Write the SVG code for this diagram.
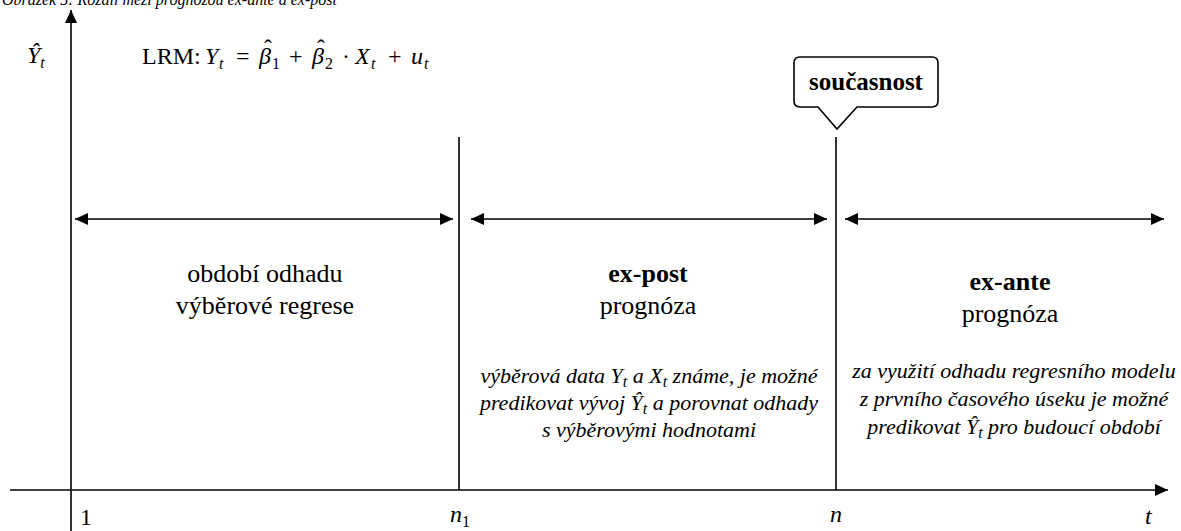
<svg xmlns="http://www.w3.org/2000/svg" width="1181" height="531" viewBox="0 0 1181 531">
<style>
.ln{stroke:#000;stroke-width:1.6;fill:none}
.t{font-family:"Liberation Serif","Times New Roman",serif;fill:#000}
.m{font-family:"Liberation Serif","Times New Roman",serif;font-style:italic;fill:#000}
.i{font-style:italic}
.f24{font-size:24px}
.sub{font-size:16px}
.lab{font-size:26px}
.it{font-size:22px;font-style:italic}
</style>
<defs>
<marker id="ah" viewBox="0 0 13 12" refX="13" refY="6" markerWidth="13" markerHeight="12" markerUnits="userSpaceOnUse" orient="auto-start-reverse">
<path d="M0,0 L13,6 L0,12 z" fill="#000"/>
</marker>
</defs>
<rect width="1181" height="531" fill="#fff"/>
<text class="t" x="2" y="4.5" font-size="16" font-style="italic">Obrázek 5: Rozdíl mezi prognózou ex-ante a ex-post</text>
<g id="connectors">
<line class="ln" x1="71" y1="531" x2="71" y2="10" marker-end="url(#ah)"/>
<line class="ln" x1="10" y1="490" x2="1168" y2="490" marker-end="url(#ah)"/>
<line class="ln" x1="459" y1="137" x2="459" y2="490"/>
<line class="ln" x1="836" y1="137" x2="836" y2="490"/>
<line class="ln" x1="75" y1="219" x2="453" y2="219" marker-start="url(#ah)" marker-end="url(#ah)"/>
<line class="ln" x1="471" y1="219" x2="827" y2="219" marker-start="url(#ah)" marker-end="url(#ah)"/>
<line class="ln" x1="845" y1="219" x2="1164" y2="219" marker-start="url(#ah)" marker-end="url(#ah)"/>
</g>
<g id="axis-labels">
<text class="m f24" x="27" y="63">Ŷ<tspan class="sub" dy="5">t</tspan></text>
<text class="t f24" x="80" y="525">1</text>
<text class="m f24" x="450" y="522">n<tspan class="sub" font-style="normal" dy="5">1</tspan></text>
<text class="m f24" x="830" y="522">n</text>
<text class="m f24" x="1145" y="524">t</text>
</g>
<g id="model">
<text class="t f24" x="142" y="64">LRM:<tspan class="i" x="205" y="64">Y</tspan><tspan class="i sub" x="219" y="69">t</tspan><tspan x="236" y="64">=</tspan><tspan class="i" x="259" y="64">β</tspan><tspan x="264" y="56">ˆ</tspan><tspan class="sub" x="272" y="69">1</tspan><tspan x="289" y="64">+</tspan><tspan class="i" x="312" y="64">β</tspan><tspan x="317" y="56">ˆ</tspan><tspan class="sub" x="325" y="69">2</tspan><tspan x="342" y="64">·</tspan><tspan class="i" x="355" y="64">X</tspan><tspan class="i sub" x="371" y="69">t</tspan><tspan x="388" y="64">+</tspan><tspan class="i" x="411" y="64">u</tspan><tspan class="i sub" x="424" y="69">t</tspan></text>
</g>
<g id="soucasnost">
<path class="ln" d="M800,57 H932 Q938,57 938,63 V101 Q938,107 932,107 H857 L837,129 L818,107 H800 Q794,107 794,101 V63 Q794,57 800,57 Z" fill="#fff"/>
<text class="t" x="866" y="90" font-size="25" font-weight="bold" text-anchor="middle">současnost</text>
</g>
<g id="odhad">
<text class="t lab" x="265" y="282" text-anchor="middle">období odhadu</text>
<text class="t lab" x="265" y="314" text-anchor="middle">výběrové regrese</text>
</g>
<g id="expost">
<text class="t lab" x="648" y="282" text-anchor="middle" font-weight="bold">ex-post</text>
<text class="t lab" x="648" y="314" text-anchor="middle">prognóza</text>
<text class="t it" x="649" y="383" text-anchor="middle">výběrová data Y<tspan font-size="16" dy="4">t</tspan><tspan dy="-4"> a X</tspan><tspan font-size="16" dy="4">t</tspan><tspan dy="-4"> známe, je možné</tspan></text>
<text class="t it" x="649" y="410" text-anchor="middle">predikovat vývoj Ŷ<tspan font-size="16" dy="4">t</tspan><tspan dy="-4"> a porovnat odhady</tspan></text>
<text class="t it" x="649" y="437" text-anchor="middle">s výběrovými hodnotami</text>
</g>
<g id="exante">
<text class="t lab" x="1010" y="290" text-anchor="middle" font-weight="bold">ex-ante</text>
<text class="t lab" x="1010" y="322" text-anchor="middle">prognóza</text>
<text class="t it" x="1014" y="378" text-anchor="middle">za využití odhadu regresního modelu</text>
<text class="t it" x="1014" y="406" text-anchor="middle">z prvního časového úseku je možné</text>
<text class="t it" x="1014" y="434" text-anchor="middle">predikovat Ŷ<tspan font-size="16" dy="4">t</tspan><tspan dy="-4"> pro budoucí období</tspan></text>
</g>
</svg>
